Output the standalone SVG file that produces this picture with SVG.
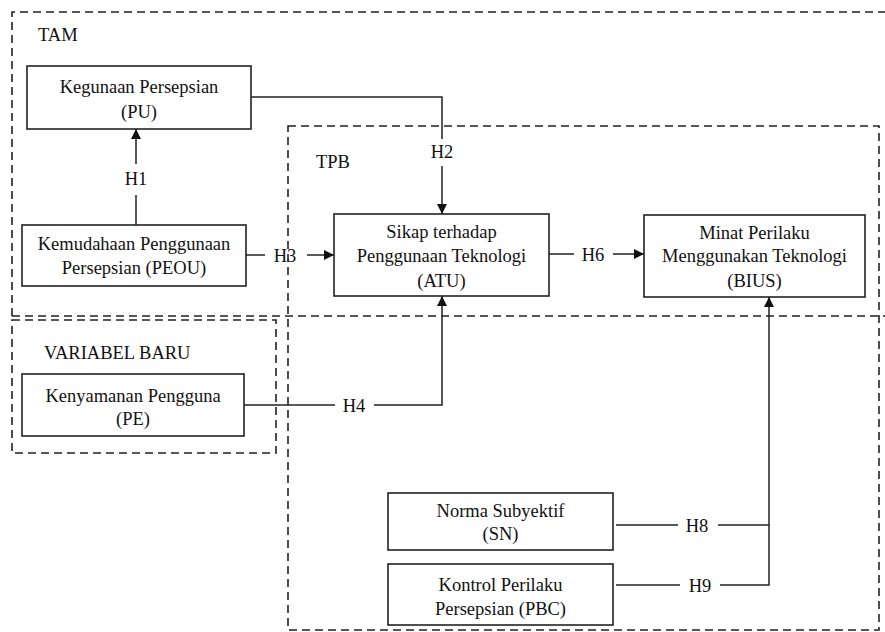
<svg xmlns="http://www.w3.org/2000/svg" width="885" height="632" viewBox="0 0 885 632">
<defs>
<marker id="arr" viewBox="0 0 10 10" refX="10" refY="5" markerWidth="10" markerHeight="10" markerUnits="userSpaceOnUse" orient="auto">
<path d="M0,0 L10,5 L0,10 z" fill="#111"/>
</marker>
<style>
.grp{fill:none;stroke:#222;stroke-width:1.6;stroke-dasharray:8 5}
.box{fill:#fff;stroke:#222;stroke-width:1.6}
.ln{fill:none;stroke:#222;stroke-width:1.5}
.c{text-anchor:middle}
</style>
</defs>
<rect width="885" height="632" fill="#fff"/>
<g font-family="'Liberation Serif', 'DejaVu Serif', serif" font-size="18.5" fill="#111">
<g id="groups">
<path class="grp" d="M12,316 L12,12 L890,12"/>
<line class="grp" x1="12" y1="316" x2="890" y2="316"/>
<rect class="grp" x="288" y="126" width="591" height="504"/>
<rect class="grp" x="12" y="320" width="264" height="133"/>
<text x="38" y="41">TAM</text>
<text x="316" y="168">TPB</text>
<text x="44" y="359">VARIABEL BARU</text>
</g>
<g id="connectors">
<line class="ln" x1="136" y1="164" x2="136" y2="129" marker-end="url(#arr)"/>
<line class="ln" x1="136" y1="225" x2="136" y2="195"/>
<text class="c" x="136" y="185">H1</text>
<path class="ln" d="M251,97 L442,97 L442,139"/>
<line class="ln" x1="442" y1="166" x2="442" y2="214" marker-end="url(#arr)"/>
<text class="c" x="442" y="158">H2</text>
<line class="ln" x1="246" y1="255" x2="265" y2="255"/>
<line class="ln" x1="307" y1="255" x2="334" y2="255" marker-end="url(#arr)"/>
<text class="c" x="285" y="262">H3</text>
<line class="ln" x1="244" y1="405" x2="335" y2="405"/>
<path class="ln" d="M374,405 L442,405 L442,296" marker-end="url(#arr)"/>
<text class="c" x="354" y="412">H4</text>
<line class="ln" x1="549" y1="254" x2="574" y2="254"/>
<line class="ln" x1="613" y1="254" x2="644" y2="254" marker-end="url(#arr)"/>
<text class="c" x="593" y="261">H6</text>
<line class="ln" x1="616" y1="525" x2="678" y2="525"/>
<line class="ln" x1="718" y1="525" x2="769" y2="525"/>
<text class="c" x="697" y="532">H8</text>
<line class="ln" x1="616" y1="585" x2="680" y2="585"/>
<path class="ln" d="M720,585 L769,585 L769,297" marker-end="url(#arr)"/>
<text class="c" x="700" y="592">H9</text>
</g>
<g id="PU">
<rect class="box" x="27" y="66" width="224" height="63"/>
<text class="c" x="139" y="93">Kegunaan Persepsian</text>
<text class="c" x="139" y="118">(PU)</text>
</g>
<g id="PEOU">
<rect class="box" x="22" y="225" width="224" height="61"/>
<text class="c" x="134" y="250">Kemudahaan Penggunaan</text>
<text class="c" x="134" y="274">Persepsian (PEOU)</text>
</g>
<g id="ATU">
<rect class="box" x="334" y="214" width="215" height="82"/>
<text class="c" x="441.5" y="238">Sikap terhadap</text>
<text class="c" x="441.5" y="262">Penggunaan Teknologi</text>
<text class="c" x="441.5" y="287">(ATU)</text>
</g>
<g id="BIUS">
<rect class="box" x="644" y="215" width="221" height="82"/>
<text class="c" x="754.5" y="239">Minat Perilaku</text>
<text class="c" x="754.5" y="262">Menggunakan Teknologi</text>
<text class="c" x="754.5" y="287">(BIUS)</text>
</g>
<g id="PE">
<rect class="box" x="22" y="374" width="222" height="62"/>
<text class="c" x="133" y="402">Kenyamanan Pengguna</text>
<text class="c" x="133" y="425">(PE)</text>
</g>
<g id="SN">
<rect class="box" x="388" y="493" width="225" height="57"/>
<text class="c" x="500.5" y="517">Norma Subyektif</text>
<text class="c" x="500.5" y="540">(SN)</text>
</g>
<g id="PBC">
<rect class="box" x="388" y="564" width="225" height="61"/>
<text class="c" x="500.5" y="591">Kontrol Perilaku</text>
<text class="c" x="500.5" y="615">Persepsian (PBC)</text>
</g>
</g>
</svg>
